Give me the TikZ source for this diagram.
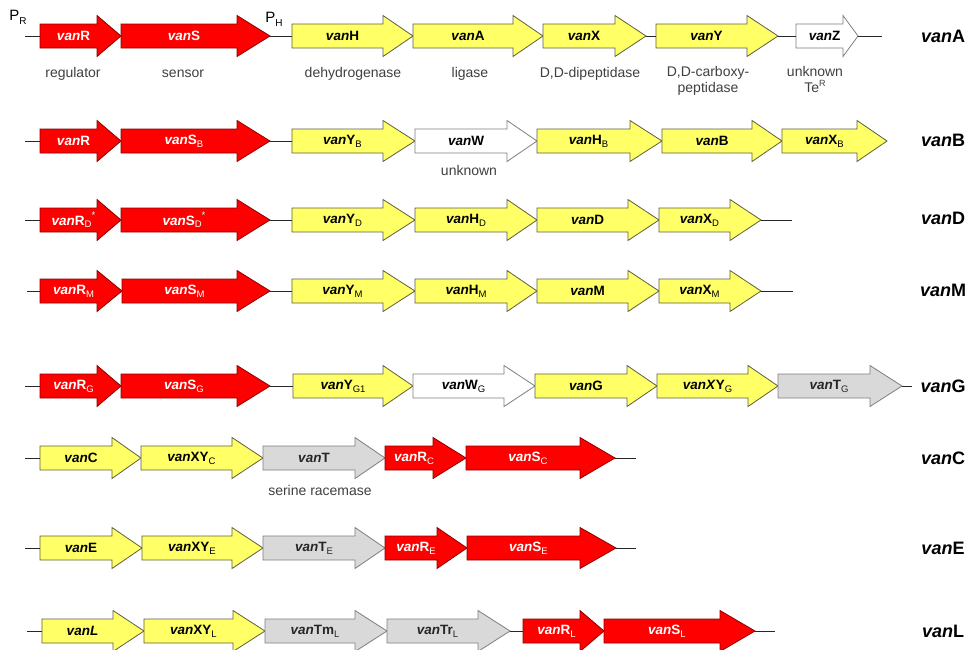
\documentclass[tikz,border=0pt]{standalone}
\usepackage{fontspec}
\setmainfont{Liberation Sans}
\definecolor{genred}{HTML}{FF0000}
\definecolor{genredline}{HTML}{8C0000}
\definecolor{genyel}{HTML}{FFFF66}
\definecolor{genyelline}{HTML}{5E5E42}
\definecolor{gengray}{HTML}{D9D9D9}
\definecolor{gengrayline}{HTML}{7F7F7F}
\definecolor{desc}{HTML}{404040}
\newcommand\vn{\textit{van}}
\newcommand\sbs[1]{\raisebox{-0.4ex}{\fontsize{9.5}{10}\selectfont\mdseries #1}}
\newcommand\sps[1]{\raisebox{0.9ex}{\fontsize{9.5}{10}\selectfont\mdseries #1}}
\newcommand\genefont{\fontsize{13.5}{16}\selectfont\bfseries}
\tikzset{
  dna/.style={draw=black!85, line width=0.9pt},
  redgene/.style={fill=genred, draw=genredline, line width=0.8pt},
  redgene text/.style={text=white, font=\genefont, inner sep=0pt},
  yelgene/.style={fill=genyel, draw=genyelline, line width=0.8pt},
  yelgene text/.style={text=black, font=\genefont, inner sep=0pt},
  graygene/.style={fill=gengray, draw=gengrayline, line width=0.8pt},
  graygene text/.style={text=black!85, font=\genefont, inner sep=0pt},
  whitegene/.style={fill=white, draw=gengrayline, line width=0.8pt},
  whitegene text/.style={text=black, font=\genefont, inner sep=0pt},
  desclabel/.style={text=desc, font=\fontsize{14}{16}\selectfont, align=center, inner sep=0pt},
  clusterlabel/.style={font=\fontsize{18}{20}\selectfont\bfseries, inner sep=0pt},
  promoter/.style={font=\fontsize{15}{16}\selectfont, inner sep=0pt}
}
% #1 name, #2 style, #3 x start, #4 head start, #5 tip, #6 y, #7 label
\newcommand\gene[7]{%
  \path[#2] (#3,#6-12) -- (#4,#6-12) -- (#4,#6-20.5) -- (#5,#6) -- (#4,#6+20.5) -- (#4,#6+12) -- (#3,#6+12) -- cycle;
  \node[#2 text] (#1) at ({(#3+#4)/2+5},#6) {#7};
  \coordinate (#1-w) at (#3,#6);
  \coordinate (#1-e) at (#5,#6);
}
\begin{document}
\begin{tikzpicture}[x=1pt,y=-1pt]
\useasboundingbox[fill=white] (0,0) rectangle (972,649);

% ---------------- vanA ----------------
\coordinate (A0) at (25,36);
\coordinate (A9) at (882,36);
\gene{A-R}{redgene}{40}{97}{121}{36}{\vn R}
\gene{A-S}{redgene}{121}{237}{270}{36}{\vn S}
\gene{A-H}{yelgene}{292}{383}{413}{36}{\vn H}
\gene{A-A}{yelgene}{413}{513}{543}{36}{\vn A}
\gene{A-X}{yelgene}{543}{615}{646}{36}{\vn X}
\gene{A-Y}{yelgene}{656}{747}{778}{36}{\vn Y}
\gene{A-Z}{whitegene}{796}{843}{858}{36}{\vn Z}
\draw[dna] (A0) -- (A-R-w);
\draw[dna] (A-S-e) -- (A-H-w);
\draw[dna] (A-X-e) -- (A-Y-w);
\draw[dna] (A-Y-e) -- (A-Z-w);
\draw[dna] (A-Z-e) -- (A9);
\node[promoter] (PR) at (18,17) {P\raisebox{-0.5ex}{\fontsize{10}{10}\selectfont R}};
\node[promoter] (PH) at (274,19) {P\raisebox{-0.5ex}{\fontsize{10}{10}\selectfont H}};
\node[desclabel] (dA1) at (73,74) {regulator};
\node[desclabel] (dA2) at (183,74) {sensor};
\node[desclabel] (dA3) at (353,74) {dehydrogenase};
\node[desclabel] (dA4) at (470,74) {ligase};
\node[desclabel] (dA5) at (590,74) {D,D-dipeptidase};
\node[desclabel, anchor=north] (dA6) at (708,66) {D,D-carboxy-\\peptidase};
\node[desclabel, anchor=north] (dA7) at (815,66) {unknown\\Te\raisebox{0.8ex}{\fontsize{9}{9}\selectfont R}};
\node[clusterlabel] (LA) at (943,36) {\vn A};

% ---------------- vanB ----------------
\coordinate (B0) at (25,141);
\gene{B-R}{redgene}{40}{97}{121}{141}{\vn R}
\gene{B-S}{redgene}{121}{237}{270}{141}{\vn S\sbs{B}}
\gene{B-Y}{yelgene}{292}{383}{415}{141}{\vn Y\sbs{B}}
\gene{B-W}{whitegene}{415}{507}{537}{141}{\vn W}
\gene{B-H}{yelgene}{537}{630}{662}{141}{\vn H\sbs{B}}
\gene{B-B}{yelgene}{662}{752}{782}{141}{\vn B}
\gene{B-X}{yelgene}{782}{857}{887}{141}{\vn X\sbs{B}}
\draw[dna] (B0) -- (B-R-w);
\draw[dna] (B-S-e) -- (B-Y-w);
\node[desclabel] (dB1) at (469,170) {unknown};
\node[clusterlabel] (LB) at (943,140) {\vn B};

% ---------------- vanD ----------------
\coordinate (D0) at (25,220);
\coordinate (D9) at (792,220);
\gene{D-R}{redgene}{40}{97}{121}{220}{\vn R\sbs{D}\sps{*}}
\gene{D-S}{redgene}{121}{237}{270}{220}{\vn S\sbs{D}\sps{*}}
\gene{D-Y}{yelgene}{292}{383}{415}{220}{\vn Y\sbs{D}}
\gene{D-H}{yelgene}{415}{507}{537}{220}{\vn H\sbs{D}}
\gene{D-D}{yelgene}{537}{628}{659}{220}{\vn D}
\gene{D-X}{yelgene}{659}{730}{761}{220}{\vn X\sbs{D}}
\draw[dna] (D0) -- (D-R-w);
\draw[dna] (D-S-e) -- (D-Y-w);
\draw[dna] (D-X-e) -- (D9);
\node[clusterlabel] (LD) at (943,218) {\vn D};

% ---------------- vanM ----------------
\coordinate (M0) at (27,291);
\coordinate (M9) at (793,291);
\gene{M-R}{redgene}{40}{97}{122}{291}{\vn R\sbs{M}}
\gene{M-S}{redgene}{122}{237}{270}{291}{\vn S\sbs{M}}
\gene{M-Y}{yelgene}{292}{383}{415}{291}{\vn Y\sbs{M}}
\gene{M-H}{yelgene}{415}{507}{537}{291}{\vn H\sbs{M}}
\gene{M-M}{yelgene}{537}{628}{659}{291}{\vn M}
\gene{M-X}{yelgene}{659}{730}{761}{291}{\vn X\sbs{M}}
\draw[dna] (M0) -- (M-R-w);
\draw[dna] (M-S-e) -- (M-Y-w);
\draw[dna] (M-X-e) -- (M9);
\node[clusterlabel] (LM) at (943,290) {\vn M};

% ---------------- vanG ----------------
\coordinate (G0) at (25,386);
\coordinate (G9) at (912,386);
\gene{G-R}{redgene}{40}{97}{121}{386}{\vn R\sbs{G}}
\gene{G-S}{redgene}{121}{237}{270}{386}{\vn S\sbs{G}}
\gene{G-Y}{yelgene}{293}{383}{413}{386}{\vn Y\sbs{G1}}
\gene{G-W}{whitegene}{413}{504}{535}{386}{\vn W\sbs{G}}
\gene{G-G}{yelgene}{535}{627}{657}{386}{\vn G}
\gene{G-XY}{yelgene}{657}{748}{778}{386}{\textit{vanX}Y\sbs{G}}
\gene{G-T}{graygene}{778}{870}{902}{386}{\vn T\sbs{G}}
\draw[dna] (G0) -- (G-R-w);
\draw[dna] (G-S-e) -- (G-Y-w);
\draw[dna] (G-T-e) -- (G9);
\node[clusterlabel] (LG) at (943,386) {\vn G};

% ---------------- vanC ----------------
\coordinate (C0) at (25,458);
\coordinate (C9) at (636,458);
\gene{C-C}{yelgene}{40}{112}{141}{458}{\vn C}
\gene{C-XY}{yelgene}{141}{232}{263}{458}{\vn XY\sbs{C}}
\gene{C-T}{graygene}{263}{355}{385}{458}{\vn T}
\gene{C-R}{redgene}{385}{433}{466}{458}{\vn R\sbs{C}}
\gene{C-S}{redgene}{466}{580}{615}{458}{\vn S\sbs{C}}
\draw[dna] (C0) -- (C-C-w);
\draw[dna] (C-S-e) -- (C9);
\node[desclabel] (dC1) at (320,490) {serine racemase};
\node[clusterlabel] (LC) at (943,458) {\vn C};

% ---------------- vanE ----------------
\coordinate (E0) at (25,548);
\coordinate (E9) at (636,548);
\gene{E-E}{yelgene}{40}{112}{142}{548}{\vn E}
\gene{E-XY}{yelgene}{142}{232}{263}{548}{\vn XY\sbs{E}}
\gene{E-T}{graygene}{263}{355}{385}{548}{\vn T\sbs{E}}
\gene{E-R}{redgene}{385}{437}{467}{548}{\vn R\sbs{E}}
\gene{E-S}{redgene}{467}{580}{616}{548}{\vn S\sbs{E}}
\draw[dna] (E0) -- (E-E-w);
\draw[dna] (E-S-e) -- (E9);
\node[clusterlabel] (LE) at (943,548) {\vn E};

% ---------------- vanL ----------------
\coordinate (L0) at (27,631);
\coordinate (L9) at (775,631);
\gene{L-L}{yelgene}{42}{113}{144}{631}{\textit{vanL}}
\gene{L-XY}{yelgene}{144}{233}{265}{631}{\vn XY\sbs{L}}
\gene{L-Tm}{graygene}{265}{355}{387}{631}{\vn Tm\sbs{L}}
\gene{L-Tr}{graygene}{387}{478}{510}{631}{\vn Tr\sbs{L}}
\gene{L-R}{redgene}{523}{580}{604}{631}{\vn R\sbs{L}}
\gene{L-S}{redgene}{604}{720}{755}{631}{\vn S\sbs{L}}
\draw[dna] (L0) -- (L-L-w);
\draw[dna] (L-Tr-e) -- (L-R-w);
\draw[dna] (L-S-e) -- (L9);
\node[clusterlabel] (LL) at (943,631) {\vn L};
\end{tikzpicture}
\end{document}
